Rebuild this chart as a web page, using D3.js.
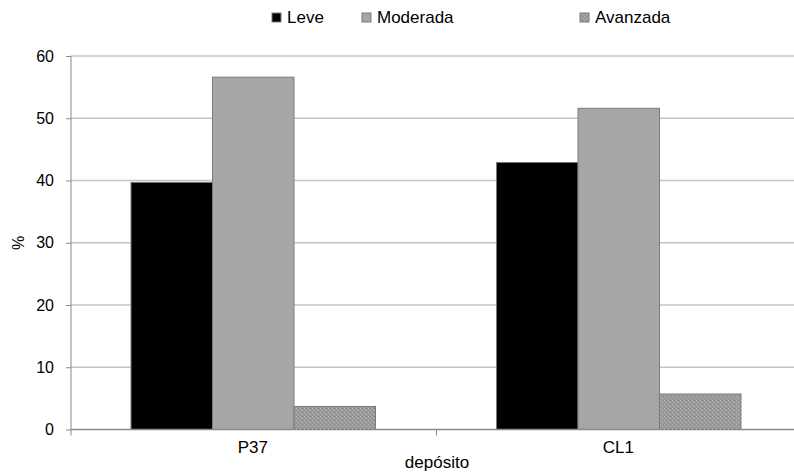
<!DOCTYPE html>
<html><head><meta charset="utf-8">
<script src="https://cdn.jsdelivr.net/npm/d3@7"></script>
<style>body{margin:0;background:#fff}svg{display:block;font-family:"Liberation Sans",Arial,sans-serif}</style>
</head><body><svg id="c" width="794" height="474"></svg>
<script>
const categories = ["P37", "CL1"];
const seriesNames = ["Leve", "Moderada", "Avanzada"];
const leve = [39.7, 42.9];
const moderada = [56.6, 51.6];
const avanzada = [3.7, 5.7];
const yTicks = [0, 10, 20, 30, 40, 50, 60];
const values = [leve, moderada, avanzada];

const svg = d3.select("#c");
const defs = svg.append("defs");
const pat = defs.append("pattern").attr("id","dots").attr("width",4).attr("height",4).attr("patternUnits","userSpaceOnUse");
pat.append("rect").attr("width",4).attr("height",4).attr("fill","#9a9a9a");
pat.append("rect").attr("x",0).attr("y",0).attr("width",1).attr("height",1).attr("fill","#b8b8b8");
pat.append("rect").attr("x",2).attr("y",2).attr("width",1).attr("height",1).attr("fill","#b8b8b8");
pat.append("rect").attr("x",2).attr("y",0).attr("width",1).attr("height",1).attr("fill","#888");

const fills = ["#000000", "#a6a6a6", "url(#dots)"];

const x0 = 71, xEnd = 802;
const y = d3.scaleLinear().domain([0, 60]).range([429.5, 56]);
const x = d3.scaleBand().domain(categories).range([x0, xEnd]);

// gridlines
svg.append("g").selectAll("line").data(yTicks.filter(d => d > 0)).join("line")
  .attr("x1", x0).attr("x2", 794).attr("y1", d => y(d)).attr("y2", d => y(d))
  .attr("stroke", "#c4c4c4").attr("stroke-width", 1.5);

// bars
const inner = d3.scaleBand().domain(seriesNames).range([60, x.bandwidth() - 61]);
categories.forEach((c, ci) => {
  seriesNames.forEach((s, si) => {
    svg.append("rect")
      .attr("x", x(c) + inner(s)).attr("width", inner.bandwidth())
      .attr("y", y(values[si][ci])).attr("height", y(0) - y(values[si][ci]))
      .attr("fill", fills[si]).attr("stroke", "#7a7a7a").attr("stroke-width", 1);
  });
});

// y axis
const yAxis = d3.axisLeft(y).tickValues(yTicks).tickSize(5).tickPadding(12);
const gy = svg.append("g").attr("transform", `translate(${x0},0)`).call(yAxis);
gy.select(".domain").attr("stroke", "#8a8a8a").attr("d", `M-0,${y(60)}V${y(0)}`);
gy.selectAll(".tick line").attr("stroke", "#8a8a8a");
gy.selectAll(".tick text").attr("font-size", 16).attr("fill", "#000").attr("font-family", "Liberation Sans, Arial, sans-serif");

// x axis
svg.append("line").attr("x1", x0).attr("x2", 794).attr("y1", y(0)).attr("y2", y(0)).attr("stroke", "#8a8a8a").attr("stroke-width", 1.5);
svg.append("line").attr("x1", x0 + x.bandwidth()).attr("x2", x0 + x.bandwidth()).attr("y1", y(0)).attr("y2", y(0) + 6).attr("stroke", "#8a8a8a");
svg.append("line").attr("x1", x0).attr("x2", x0).attr("y1", y(0)).attr("y2", y(0) + 6).attr("stroke", "#8a8a8a");
svg.append("g").selectAll("text").data(categories).join("text")
  .attr("x", d => x(d) + x.bandwidth() / 2 - 1).attr("y", 453)
  .attr("text-anchor", "middle").attr("font-size", 17).text(d => d);

svg.append("text").attr("x", 437).attr("y", 468).attr("text-anchor", "middle").attr("font-size", 17).text("depósito");
svg.append("text").attr("transform", "translate(24,243) rotate(-90)").attr("text-anchor", "middle").attr("font-size", 16).text("%");

// legend
const legX = [272, 362, 580];
seriesNames.forEach((s, i) => {
  svg.append("rect").attr("x", legX[i]).attr("y", 13).attr("width", 9).attr("height", 9)
    .attr("fill", fills[i]).attr("stroke", "#7a7a7a").attr("stroke-width", 1);
  svg.append("text").attr("x", legX[i] + 15).attr("y", 23).attr("font-size", 17).text(s);
});
</script></body></html>
